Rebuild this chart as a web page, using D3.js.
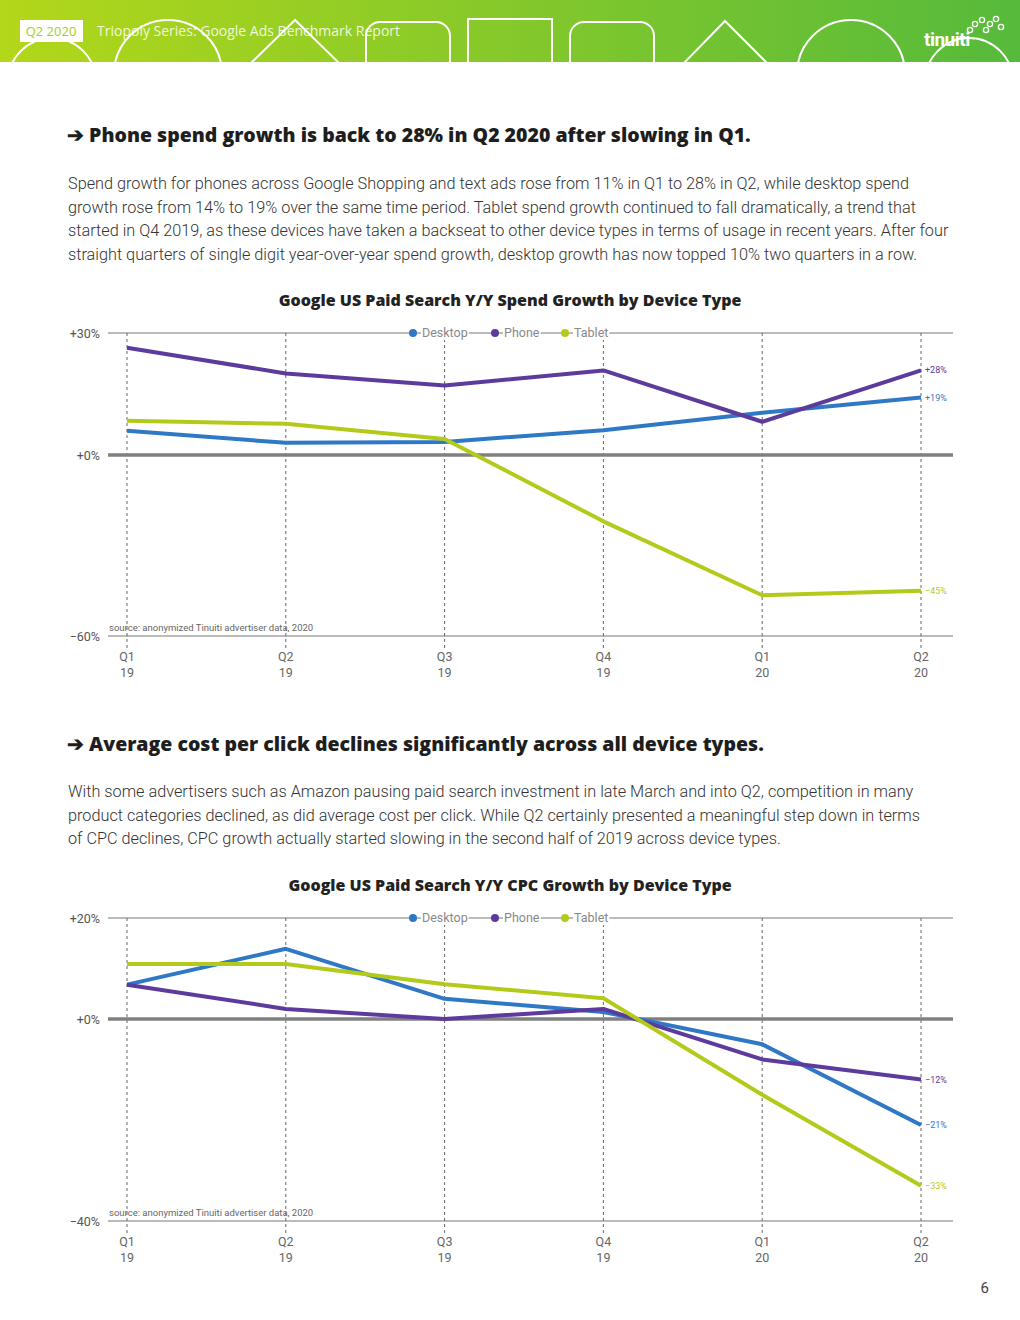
<!DOCTYPE html>
<html>
<head>
<meta charset="utf-8">
<script src="https://cdn.jsdelivr.net/npm/d3@7"></script>
<style>
  body { margin: 0; background: #fff; }
</style>
</head>
<body>
<div id="page"></div>
<script>
// Datos
var quarters = ["Q1 19", "Q2 19", "Q3 19", "Q4 19", "Q1 20", "Q2 20"];
var seriesNames = ["Desktop", "Phone", "Tablet"];

// Gráfica 1: crecimiento del gasto
var spendDesktop = [8, 4, 4.3, 8.2, 14, 19];
var spendPhone   = [35.5, 27, 23, 28, 11, 28];
var spendTablet  = [11.3, 10.3, 5.3, -22, -46.5, -45];
var spendEndLabels = ["+19%", "+28%", "\u221245%"];
var spendTickLabels = ["\u221260%", "+0%", "+30%"];

// Gráfica 2: crecimiento del CPC
var cpcDesktop = [6.8, 13.9, 4, 1.4, -5, -21];
var cpcPhone   = [6.8, 2, 0, 2, -8, -12];
var cpcTablet  = [10.9, 10.9, 6.9, 4.1, -15, -33];
var cpcEndLabels = ["\u221221%", "\u221212%", "\u221233%"];
var cpcTickLabels = ["\u221240%", "+0%", "+20%"];

var colors = {Desktop: "#2f78c6", Phone: "#5c3b9c", Tablet: "#b4ca1a"};
var boldFont = "'Open Sans', Lato, sans-serif";

var W = 1020, H = 1320;
var svg = d3.select("#page").append("svg")
    .attr("width", W).attr("height", H)
    .attr("font-family", "Roboto, sans-serif");

// ---------- cabecera ----------
var defs = svg.append("defs");
var grad = defs.append("linearGradient").attr("id", "hdr");
grad.append("stop").attr("offset", "0%").attr("stop-color", "#b3d71a");
grad.append("stop").attr("offset", "100%").attr("stop-color", "#56ba3b");
defs.append("clipPath").attr("id", "hdrclip")
  .append("rect").attr("width", W).attr("height", 62);

var hdr = svg.append("g").attr("clip-path", "url(#hdrclip)");
hdr.append("rect").attr("width", W).attr("height", 62).attr("fill", "url(#hdr)");

var shp = hdr.append("g").attr("fill", "none").attr("stroke", "#fff").attr("stroke-width", 2);
shp.append("circle").attr("cx", 52).attr("cy", 82).attr("r", 44);
shp.append("circle").attr("cx", 168).attr("cy", 74).attr("r", 54);
shp.append("path").attr("d", "M250,64 L295,20 L340,64");
shp.append("rect").attr("x", 366).attr("y", 22).attr("width", 84).attr("height", 60).attr("rx", 14);
shp.append("rect").attr("x", 468).attr("y", 19).attr("width", 84).attr("height", 60);
shp.append("rect").attr("x", 570).attr("y", 22).attr("width", 84).attr("height", 60).attr("rx", 14);
shp.append("path").attr("d", "M683,64 L725,21 L768,64");
shp.append("circle").attr("cx", 851).attr("cy", 74).attr("r", 54);
shp.append("circle").attr("cx", 969).attr("cy", 82).attr("r", 44);

hdr.append("rect").attr("x", 20).attr("y", 20).attr("width", 63).attr("height", 22).attr("fill", "#fff");
hdr.append("text").attr("x", 51).attr("y", 36).attr("text-anchor", "middle")
  .attr("font-family", boldFont)
  .attr("font-size", 13).attr("fill", "#a6cf22").text("Q2 2020");
hdr.append("text").attr("x", 97).attr("y", 36)
  .attr("font-family", boldFont)
  .attr("font-size", 14).attr("fill", "#fff").attr("fill-opacity", 0.85)
  .text("Triopoly Series: Google Ads Benchmark Report");
hdr.append("text").attr("x", 924).attr("y", 46)
  .attr("font-size", 19).attr("font-weight", 700).attr("fill", "#fff")
  .attr("letter-spacing", -0.5).text("tinuiti");
[[975,24],[982,20],[990,24],[996,19],[1001,27],[986,30],[970,30]].forEach(function(p){
  hdr.append("circle").attr("cx", p[0]).attr("cy", p[1]).attr("r", 2.6)
    .attr("fill", "none").attr("stroke", "#fff").attr("stroke-width", 1.4);
});

// ---------- textos ----------
function heading(y, txt) {
  svg.append("text").attr("x", 67).attr("y", y)
    .attr("font-family", boldFont)
    .attr("font-size", 19.5).attr("font-weight", 800).attr("fill", "#1e1e1e")
    .text("\u2794 " + txt);
}
function paragraph(y, lines) {
  var t = svg.append("text").attr("x", 68).attr("y", y)
    .attr("font-size", 16.25).attr("font-weight", 300).attr("fill", "#333");
  lines.forEach(function(l, i) {
    t.append("tspan").attr("x", 68).attr("dy", i ? 23.5 : 0).text(l);
  });
}

heading(142, "Phone spend growth is back to 28% in Q2 2020 after slowing in Q1.");
paragraph(189, [
  "Spend growth for phones across Google Shopping and text ads rose from 11% in Q1 to 28% in Q2, while desktop spend",
  "growth rose from 14% to 19% over the same time period. Tablet spend growth continued to fall dramatically, a trend that",
  "started in Q4 2019, as these devices have taken a backseat to other device types in terms of usage in recent years. After four",
  "straight quarters of single digit year-over-year spend growth, desktop growth has now topped 10% two quarters in a row."
]);

heading(751, "Average cost per click declines significantly across all device types.");
paragraph(797, [
  "With some advertisers such as Amazon pausing paid search investment in late March and into Q2, competition in many",
  "product categories declined, as did average cost per click. While Q2 certainly presented a meaningful step down in terms",
  "of CPC declines, CPC growth actually started slowing in the second half of 2019 across device types."
]);

svg.append("text").attr("x", 989).attr("y", 1293).attr("text-anchor", "end")
  .attr("font-size", 15).attr("fill", "#444").text("6");

// ---------- gráficas ----------
function chart(opts) {
  var g = svg.append("g");
  var x = d3.scalePoint().domain(quarters).range([127, 921]);
  var y = d3.scaleLinear().domain(opts.domain).range([opts.bottom, opts.top]);
  var x0 = 108, x1 = 953;

  g.append("text").attr("x", 510).attr("y", opts.titleY).attr("text-anchor", "middle")
    .attr("font-family", boldFont)
    .attr("font-size", 16).attr("font-weight", 800).attr("fill", "#222")
    .text(opts.title);

  // líneas horizontales
  [opts.domain[0], opts.domain[1]].forEach(function(v) {
    g.append("line").attr("x1", x0).attr("x2", x1).attr("y1", y(v)).attr("y2", y(v))
      .attr("stroke", "#777").attr("stroke-width", 1);
  });

  // líneas verticales punteadas
  g.selectAll(".vgrid").data(quarters).enter().append("line")
    .attr("x1", function(d){ return x(d); }).attr("x2", function(d){ return x(d); })
    .attr("y1", y(opts.domain[1])).attr("y2", y(opts.domain[0]) + 12)
    .attr("stroke", "#666").attr("stroke-width", 1).attr("stroke-dasharray", "3,3");

  g.append("line").attr("x1", x0).attr("x2", x1).attr("y1", y(0)).attr("y2", y(0))
    .attr("stroke", "#808080").attr("stroke-width", 3.5);

  // etiquetas del eje y
  var tickVals = [opts.domain[0], 0, opts.domain[1]];
  g.selectAll(".ytick").data(tickVals).enter().append("text")
    .attr("x", 100).attr("y", function(d){ return y(d) + 5; })
    .attr("text-anchor", "end").attr("font-size", 12.5).attr("fill", "#555")
    .text(function(d, i){ return opts.tickLabels[i]; });

  // etiquetas del eje x
  var xl = g.selectAll(".xtick").data(quarters).enter().append("text")
    .attr("text-anchor", "middle").attr("font-size", 12.5).attr("fill", "#666");
  xl.append("tspan").attr("x", function(d){ return x(d); }).attr("y", y(opts.domain[0]) + 25)
    .text(function(d){ return d.split(" ")[0]; });
  xl.append("tspan").attr("x", function(d){ return x(d); }).attr("y", y(opts.domain[0]) + 41)
    .text(function(d){ return d.split(" ")[1]; });

  g.append("text").attr("x", 109).attr("y", y(opts.domain[0]) - 5)
    .attr("font-size", 9.5).attr("fill", "#666")
    .text("source: anonymized Tinuiti advertiser data, 2020");

  var line = d3.line().x(function(d, i){ return x(quarters[i]); }).y(function(d){ return y(d); });

  seriesNames.forEach(function(name, k) {
    var vals = opts.series[k];
    g.append("path").datum(vals).attr("d", line)
      .attr("fill", "none").attr("stroke", colors[name]).attr("stroke-width", 4)
      .attr("stroke-linejoin", "round");
    g.append("text").attr("x", 925).attr("y", y(vals[vals.length - 1]) + 3)
      .attr("font-size", 9).attr("fill", colors[name])
      .text(opts.endLabels[k]);
  });

  // leyenda sobre la línea superior
  var legX = [413, 495, 565];
  var ly = y(opts.domain[1]);
  seriesNames.forEach(function(name, k) {
    var tx = legX[k] + 9;
    var t = g.append("text").attr("x", tx).attr("y", ly + 4)
      .attr("font-size", 12.5).attr("fill", "#888").text(name);
    var bb = t.node().getBBox();
    g.insert("rect", function(){ return t.node(); })
      .attr("x", bb.x - 1).attr("y", bb.y).attr("width", bb.width + 2).attr("height", bb.height)
      .attr("fill", "#fff");
    g.append("circle").attr("cx", legX[k]).attr("cy", ly).attr("r", 4).attr("fill", colors[name]);
  });
}

chart({
  title: "Google US Paid Search Y/Y Spend Growth by Device Type",
  titleY: 306, top: 333, bottom: 636, domain: [-60, 40.4],
  tickLabels: spendTickLabels,
  series: [spendDesktop, spendPhone, spendTablet],
  endLabels: spendEndLabels
});

chart({
  title: "Google US Paid Search Y/Y CPC Growth by Device Type",
  titleY: 891, top: 918, bottom: 1221, domain: [-40, 20],
  tickLabels: cpcTickLabels,
  series: [cpcDesktop, cpcPhone, cpcTablet],
  endLabels: cpcEndLabels
});
</script>
</body>
</html>
